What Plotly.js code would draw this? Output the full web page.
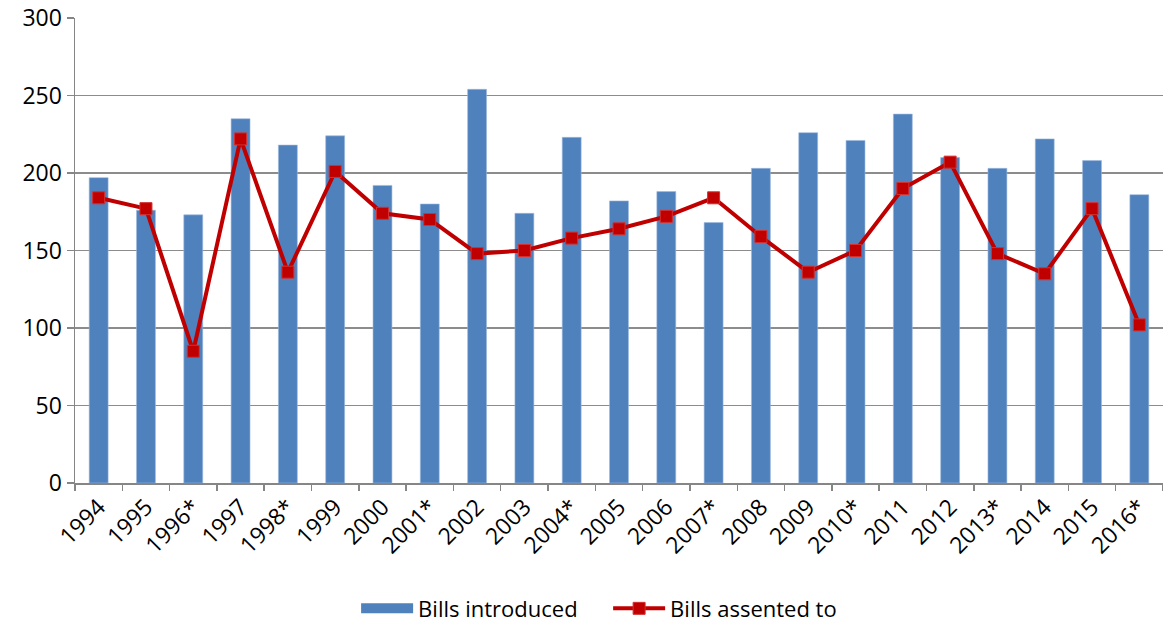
<!DOCTYPE html>
<html>
<head>
<meta charset="utf-8">
<script src="https://cdn.plot.ly/plotly-3.0.1.min.js"></script>
<style>html,body{margin:0;padding:0;background:#fff;}#chart{width:1163px;height:630px;}</style>
</head>
<body>
<div id="chart"></div>
<script>
const years = ["1994","1995","1996*","1997","1998*","1999","2000","2001*","2002","2003","2004*","2005","2006","2007*","2008","2009","2010*","2011","2012","2013*","2014","2015","2016*"];
const billsIntroduced = [197,176,173,235,218,224,192,180,254,174,223,182,188,168,203,226,221,238,210,203,222,208,186];
const billsAssented = [184,177,85,222,136,201,174,170,148,150,158,164,172,184,159,136,150,190,207,148,135,177,102];
const yTicks = [0,50,100,150,200,250,300];

const fontFam = '"Open Sans", "Noto Sans", sans-serif';
const barColor = '#4F81BD';

const traces = [
  {
    type: 'bar', name: 'Bills introduced', x: years, y: billsIntroduced,
    marker: {color: barColor, line: {color: '#9DB9DE', width: 0.6}},
    showlegend: false
  },
  {
    // legend-only entry giving the wide rectangular swatch
    type: 'scatter', mode: 'lines', name: 'Bills introduced', x: [null], y: [null],
    line: {color: barColor, width: 15}, hoverinfo: 'skip'
  },
  {
    type: 'scatter', mode: 'lines+markers', name: 'Bills assented to', x: years, y: billsAssented,
    line: {color: '#C00000', width: 4},
    marker: {symbol: 'square', size: 12, color: '#C00000', line: {color: '#D43030', width: 1}}
  }
];

const layout = {
  width: 1163, height: 630,
  margin: {l: 75, r: 0, t: 18, b: 143},
  paper_bgcolor: '#ffffff', plot_bgcolor: '#ffffff',
  font: {family: fontFam, size: 22, color: '#000000'},
  bargap: 0.6,
  showlegend: true,
  legend: {
    orientation: 'h', x: 0.49, xanchor: 'center', y: -0.27, yanchor: 'middle',
    font: {family: fontFam, size: 22, color: '#000000'},
    traceorder: 'normal', itemwidth: 52, entrywidth: 185
  },
  xaxis: {
    type: 'category', tickangle: -45,
    showline: true, linecolor: '#868686', linewidth: 1.5,
    ticks: 'outside', tickson: 'boundaries', ticklen: 6, tickcolor: '#868686', tickwidth: 1.5,
    showgrid: false, zeroline: false,
    tickfont: {family: fontFam, size: 23, color: '#000000'},
    range: [-0.5, 22.5]
  },
  yaxis: {
    range: [0, 300], tickvals: yTicks, ticktext: yTicks.map(String),
    showline: true, linecolor: '#868686', linewidth: 1.5,
    ticks: 'outside', ticklen: 7, tickcolor: '#868686', tickwidth: 1.5,
    showgrid: true, gridcolor: '#8C8C8C', gridwidth: 1.5,
    zeroline: false,
    tickfont: {family: fontFam, size: 23, color: '#000000'}
  }
};

Plotly.newPlot('chart', traces, layout, {displayModeBar: false, staticPlot: true});
</script>
</body>
</html>
